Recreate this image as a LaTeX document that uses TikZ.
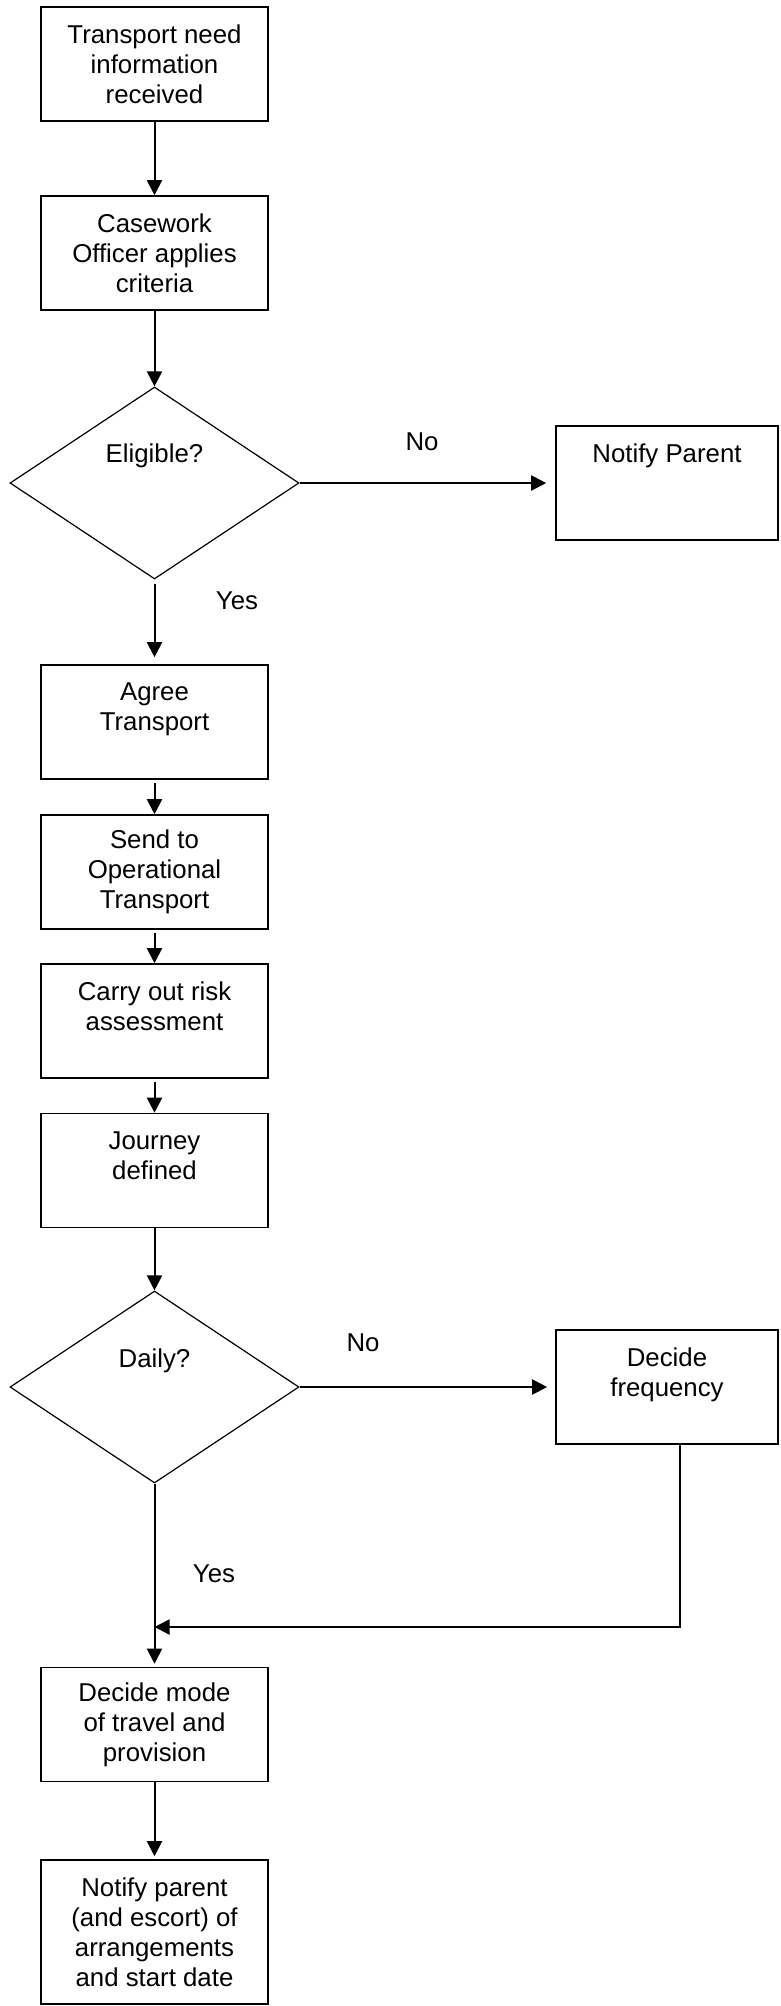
\documentclass[tikz,border=0pt]{standalone}
\usepackage{fontspec}
\setmainfont{Liberation Sans}
\usepackage{tikz}
\usetikzlibrary{shapes,arrows.meta}

\begin{document}
\begin{tikzpicture}[x=1pt, y=-1pt,
    every node/.style={font=\fontsize{25.8}{30}\selectfont},
    stepbox/.style={rectangle, draw, line width=1.6pt, align=center, minimum width=227pt, minimum height=114pt},
    sidebox/.style={stepbox, minimum width=222pt},
    decision/.style={diamond, draw, line width=1.2pt, minimum width=289pt, minimum height=192pt, inner sep=0pt},
    flow/.style={line width=2pt, -{Triangle[length=15pt, width=15pt]}}]
    \useasboundingbox (0, 0) rectangle (780, 2006);

    \node [stepbox] (received) at (154.5, 64) {Transport need\\information\\received};
    \node [stepbox] (criteria) at (154.5, 253) {Casework\\Officer applies\\criteria};
    \node [decision] (eligible) at (154.5, 483) {};
    \node (eligibletext) at (154.5, 456) {Eligible?};
    \node [sidebox] (notify) at (667, 483) {Notify Parent\\\strut\\\null};
    \node [stepbox] (agree) at (154.5, 722) {Agree\\Transport\\\null};
    \node [stepbox] (send) at (154.5, 872) {Send to\\Operational\\Transport};
    \node [stepbox] (risk) at (154.5, 1021) {Carry out risk\\assessment\\\null};
    \node [stepbox] (journey) at (154.5, 1170.5) {Journey\\defined\\\null};
    \node [decision] (daily) at (154.5, 1387) {};
    \node (dailytext) at (154.5, 1361) {Daily?};
    \node [sidebox] (frequency) at (667, 1387) {Decide\\frequency\\\null};
    \node [stepbox] (mode) at (154.5, 1724.5) {Decide mode\\of travel and\\provision};
    \node [stepbox, minimum height=144pt] (arrangements) at (154.5, 1932) {Notify parent\\(and escort) of\\arrangements\\and start date};
    \coordinate (merge) at (154.5, 1627);

    \node (eligibleno) at (422, 442) {No};
    \node (eligibleyes) at (237, 601) {Yes};
    \node (dailyno) at (363, 1343) {No};
    \node (dailyyes) at (214, 1574) {Yes};

    \draw [flow] (received) edge (criteria);
    \draw [flow] (criteria) edge (eligible);
    \draw [flow, shorten >=9pt] (eligible) edge (notify);
    \draw [flow, shorten <=4pt, shorten >=7pt] (eligible) edge (agree);
    \draw [flow, shorten <=3pt] (agree) edge (send);
    \draw [flow, shorten <=3pt] (send) edge (risk);
    \draw [flow, shorten <=3pt] (risk) edge (journey);
    \draw [flow] (journey) edge (daily);
    \draw [flow, shorten >=8pt] (daily) edge (frequency);
    \draw [flow, shorten >=3pt] (daily) edge (mode);
    \draw [flow] ([xshift=13pt]frequency.south) |- (merge);
    \draw [flow, shorten >=3pt] (mode) edge (arrangements);
  \end{tikzpicture}
\end{document}
